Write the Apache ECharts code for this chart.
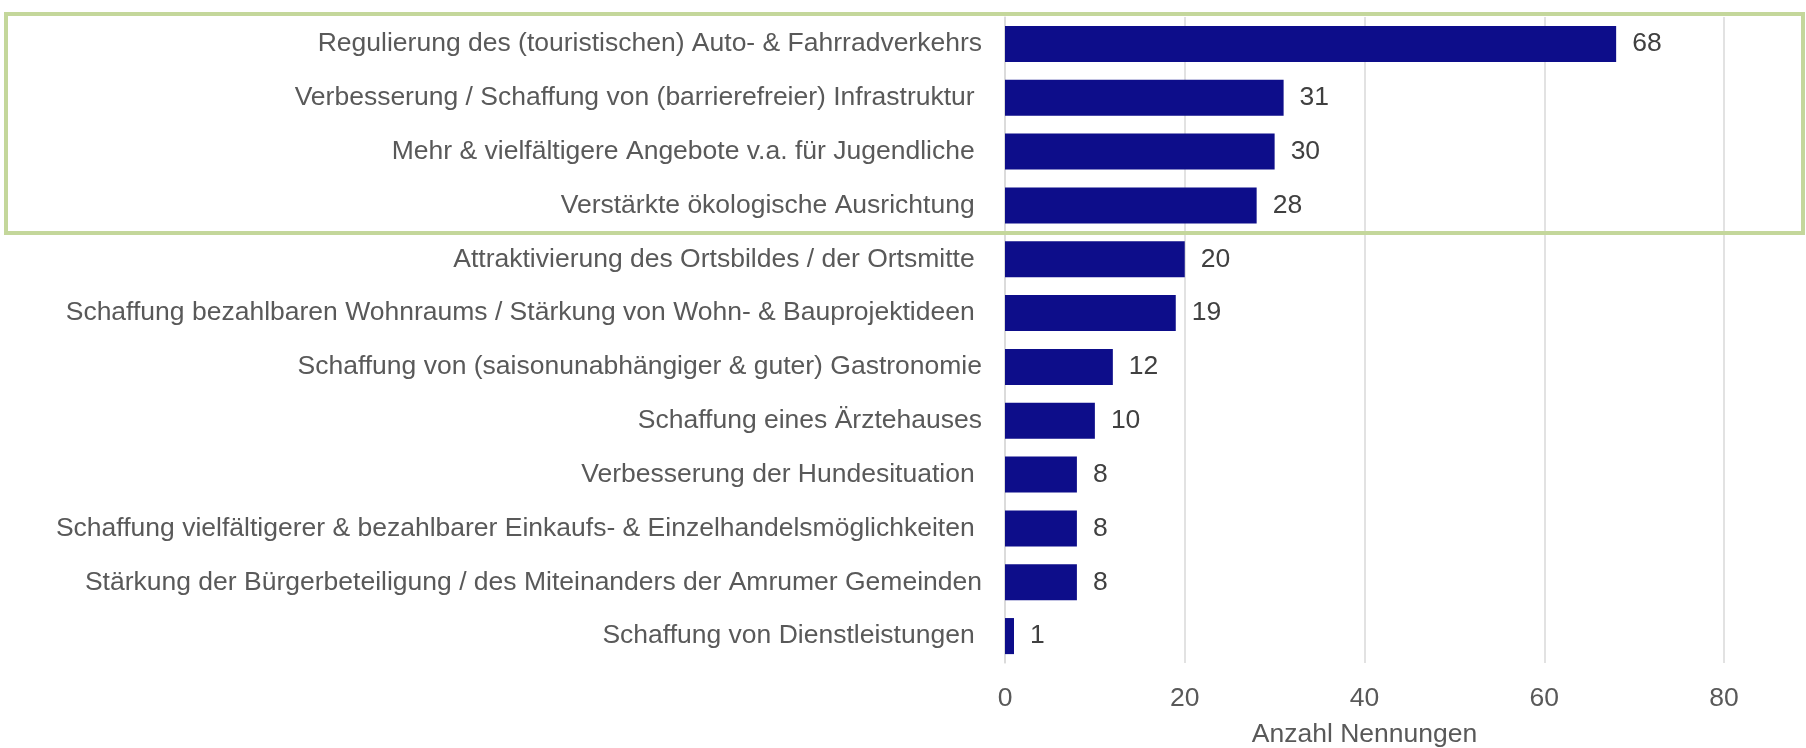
<!DOCTYPE html>
<html>
<head>
<meta charset="utf-8">
<script src="https://cdn.jsdelivr.net/npm/echarts@6/dist/echarts.min.js"></script>
<style>
  html, body { margin: 0; padding: 0; background: #fff; }
  #chart { width: 1806px; height: 748px; }
</style>
</head>
<body>
<div id="chart"></div>
<script>
// categories top to bottom (trailing spaces kept as in the source labels)
const categories = [
  'Regulierung des (touristischen) Auto- & Fahrradverkehrs',
  'Verbesserung / Schaffung von (barrierefreier) Infrastruktur ',
  'Mehr & vielfältigere Angebote v.a. für Jugendliche ',
  'Verstärkte ökologische Ausrichtung ',
  'Attraktivierung des Ortsbildes / der Ortsmitte ',
  'Schaffung bezahlbaren Wohnraums / Stärkung von Wohn- & Bauprojektideen ',
  'Schaffung von (saisonunabhängiger & guter) Gastronomie',
  'Schaffung eines Ärztehauses',
  'Verbesserung der Hundesituation ',
  'Schaffung vielfältigerer & bezahlbarer Einkaufs- & Einzelhandelsmöglichkeiten ',
  'Stärkung der Bürgerbeteiligung / des Miteinanders der Amrumer Gemeinden',
  'Schaffung von Dienstleistungen '
]
const values = [68, 31, 30, 28, 20, 19, 12, 10, 8, 8, 8, 1]
const xTicks = [0, 20, 40, 60, 80]
const xTitle = 'Anzahl Nennungen'

const font = '"Liberation Sans", Arial, sans-serif'
const fs = 26.5
const chart = echarts.init(document.getElementById('chart'))

chart.setOption({
  animation: false,
  backgroundColor: '#fff',
  textStyle: { fontFamily: font },
  grid: {
    left: 1005, right: 82, top: 17, bottom: 85,
    containLabel: false,
    outerBoundsMode: 'none'
  },
  xAxis: {
    type: 'value',
    min: xTicks[0],
    max: xTicks[xTicks.length - 1],
    interval: xTicks[1] - xTicks[0],
    name: xTitle,
    nameLocation: 'middle',
    nameGap: 58,
    nameTextStyle: { color: '#595959', fontSize: fs, fontFamily: font },
    axisLine: { show: false },
    axisTick: { show: false },
    axisLabel: { color: '#595959', fontSize: fs, margin: 22, fontFamily: font },
    splitLine: { show: true, lineStyle: { color: '#d9d9d9', width: 1.5 } }
  },
  yAxis: {
    type: 'category',
    data: categories,
    inverse: true,
    axisLine: { show: true, lineStyle: { color: '#d9d9d9', width: 1.5 } },
    axisTick: { show: false },
    axisLabel: { color: '#595959', fontSize: fs, margin: 23, fontFamily: font }
  },
  series: [{
    type: 'bar',
    data: values,
    barWidth: '67%',
    itemStyle: { color: '#0d0d8a' },
    label: {
      show: true,
      position: 'right',
      distance: 16,
      color: '#404040',
      fontSize: fs,
      fontFamily: font
    }
  }],
  graphic: [{
    type: 'rect',
    shape: { x: 6, y: 14, width: 1797, height: 219 },
    style: { fill: 'none', stroke: '#c4d79b', lineWidth: 4 },
    z: 10
  }]
})
</script>
</body>
</html>
